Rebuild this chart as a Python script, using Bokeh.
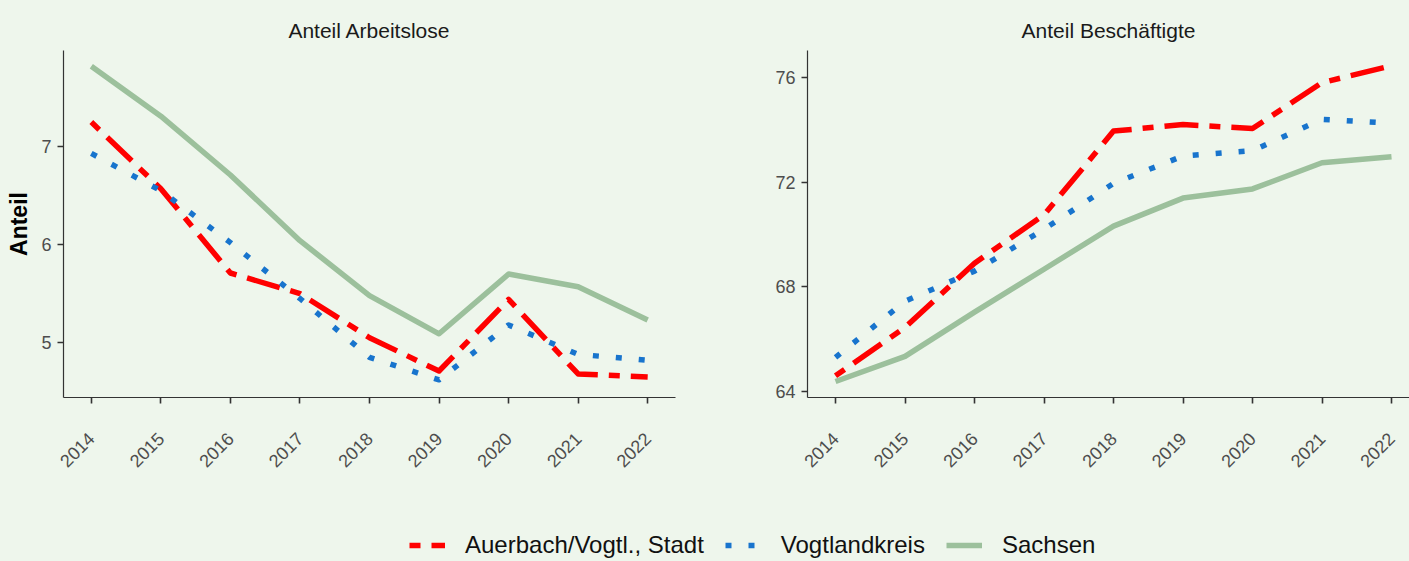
import math
from bokeh.plotting import figure
from bokeh.layouts import row, column
from bokeh.models import (Range1d, FixedTicker, Legend, LegendItem,
                          GlobalInlineStyleSheet)
from bokeh.embed import file_html
from bokeh.resources import INLINE

# ---------------- data ----------------
years = [2014, 2015, 2016, 2017, 2018, 2019, 2020, 2021, 2022]
series_names = ["Auerbach/Vogtl., Stadt", "Vogtlandkreis", "Sachsen"]

arbeitslose_auerbach = [7.25, 6.57, 5.71, 5.50, 5.05, 4.71, 5.44, 4.68, 4.65]
arbeitslose_vogtland = [6.93, 6.55, 6.02, 5.45, 4.85, 4.62, 5.18, 4.88, 4.82]
arbeitslose_sachsen = [7.82, 7.31, 6.71, 6.04, 5.48, 5.09, 5.70, 5.57, 5.23]

besch_auerbach = [64.60, 66.45, 68.90, 70.75, 73.95, 74.20, 74.05, 75.80, 76.45]
besch_vogtland = [65.30, 67.45, 68.60, 70.20, 71.95, 73.00, 73.20, 74.40, 74.25]
besch_sachsen = [64.38, 65.34, 67.03, 68.67, 70.32, 71.39, 71.74, 72.74, 72.97]

left_yticks = [5, 6, 7]
right_yticks = [64, 68, 72, 76]
panel_titles = ["Anteil Arbeitslose", "Anteil Beschäftigte"]
y_label = "Anteil"

# ---------------- style ----------------
BG = "#EEF6EC"
FONT = "Liberation Sans"
AX = "#333333"
TICKTXT = "#4D4D4D"
colors = ["#FF0000", "#1874CD", "#9CC09C"]
dashes = ["11 11 34 11", "6 17", "solid"]
LW = 5.5


def style(p, yticks):
    p.background_fill_color = BG
    p.border_fill_color = BG
    p.outline_line_color = None
    p.xgrid.visible = False
    p.ygrid.visible = False
    p.xaxis.ticker = FixedTicker(ticks=years)
    p.xaxis.major_label_overrides = {y: str(y) for y in years}
    p.yaxis.ticker = FixedTicker(ticks=yticks)
    for ax in p.axis:
        ax.axis_line_color = AX
        ax.axis_line_width = 1.2
        ax.major_tick_line_color = AX
        ax.major_tick_line_width = 1.6
        ax.major_tick_in = 0
        ax.major_tick_out = 6
        ax.minor_tick_line_color = None
        ax.major_label_text_font = FONT
        ax.major_label_text_font_size = "18px"
        ax.major_label_text_color = TICKTXT
    p.xaxis.major_label_orientation = math.pi / 4
    p.xaxis.major_label_standoff = 32
    p.yaxis.major_label_standoff = 6
    p.title.text_font = FONT
    p.title.text_font_size = "21px"
    p.title.text_font_style = "normal"
    p.title.text_color = "#1A1A1A"
    p.title.align = "center"
    p.title.standoff = 18


def add_lines(p, data):
    for vals, c, d in zip(data, colors, dashes):
        p.line(years, vals, line_color=c, line_width=LW, line_dash=d,
               line_cap="butt", line_join="round")


H = 497
TOP = 50
FRAME_H = 347
p1 = figure(width=738, height=H, x_range=Range1d(2013.6, 2022.4),
            y_range=Range1d(4.44, 7.98), output_backend="svg",
            toolbar_location=None, title=panel_titles[0],
            min_border_left=63, min_border_right=63,
            min_border_top=TOP, min_border_bottom=H - TOP - FRAME_H)
style(p1, left_yticks)
p1.yaxis.axis_label = y_label
p1.yaxis.axis_label_text_font = FONT
p1.yaxis.axis_label_text_font_size = "23px"
p1.yaxis.axis_label_text_font_style = "bold"
p1.yaxis.axis_label_text_color = "#000000"
p1.yaxis.axis_label_standoff = 6
add_lines(p1, [arbeitslose_auerbach, arbeitslose_vogtland, arbeitslose_sachsen])

p2 = figure(width=671, height=H, x_range=Range1d(2013.597, 2022.259),
            y_range=Range1d(63.77, 77.03), output_backend="svg",
            toolbar_location=None, title=panel_titles[1],
            min_border_left=69, min_border_right=0,
            min_border_top=TOP, min_border_bottom=H - TOP - FRAME_H)
style(p2, right_yticks)
p2.title.offset = 5
add_lines(p2, [besch_auerbach, besch_vogtland, besch_sachsen])

# legend strip (series drawn off-view; only their legend keys are visible)
leg = figure(width=1409, height=561 - H, x_range=Range1d(0, 1), y_range=Range1d(0, 1),
             output_backend="svg", toolbar_location=None,
             x_axis_type=None, y_axis_type=None,
             min_border=0, min_border_left=0, min_border_right=0,
             min_border_top=0, min_border_bottom=0)
leg.background_fill_color = BG
leg.border_fill_color = BG
leg.outline_line_color = None
leg.xgrid.visible = False
leg.ygrid.visible = False
items = []
for name, vals, c, d in zip(series_names,
                            [besch_auerbach, besch_vogtland, besch_sachsen],
                            colors, dashes):
    r = leg.line(years, vals, line_color=c, line_width=LW, line_dash=d, line_cap="butt")
    items.append(LegendItem(label=name, renderers=[r]))
legend = Legend(items=items, orientation="horizontal", location=(409, 2),
                glyph_width=36, glyph_height=24, label_standoff=20, spacing=21,
                padding=0, margin=0, border_line_color=None,
                background_fill_alpha=0, label_text_font=FONT,
                label_text_font_size="24px", label_text_color="#111111")
leg.add_layout(legend)

layout = column(row(p1, p2), leg)
layout.stylesheets = [GlobalInlineStyleSheet(css="body{background-color:%s;}" % BG)]

open("out.html", "w").write(file_html(layout, INLINE))
